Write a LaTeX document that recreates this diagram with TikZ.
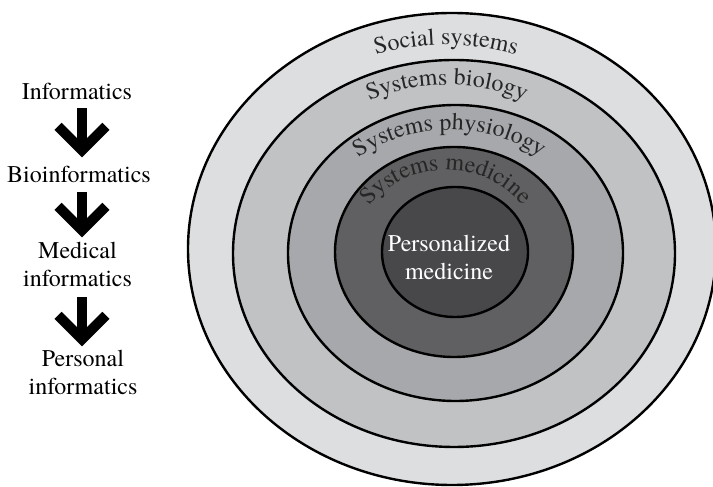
\documentclass[tikz,border=0pt]{standalone}
\usepackage{fontspec}
\setmainfont{TeX Gyre Termes}
\usetikzlibrary{arrows.meta,decorations.text}

\definecolor{ringA}{HTML}{DDDEE0}
\definecolor{ringB}{HTML}{C1C2C4}
\definecolor{ringC}{HTML}{A7A8AB}
\definecolor{ringD}{HTML}{606062}
\definecolor{ringE}{HTML}{48484B}
\definecolor{labelink}{HTML}{262626}

\newcommand{\bigtext}{\fontsize{24}{28}\selectfont}

\begin{document}
\begin{tikzpicture}[x=1pt,y=1pt,
  ring/.style={draw=black, line width=2.4pt},
  stage/.style={font=\bigtext, align=center, inner sep=0pt, anchor=south, text=black},
  flow/.style={line width=10pt, -{Straight Barb[length=24pt,width=48pt]}},
  ringlabel/.style={decorate, decoration={text along path, text align=center,
      text={|\bigtext\color{labelink}|#1}}}
]
\useasboundingbox (0,0) rectangle (713,487);
\fill[white] (0,0) rectangle (713,487);

% nested rings, outermost first
\filldraw[ring, fill=ringA] (452,238)   ellipse [x radius=264pt,   y radius=236pt];
\filldraw[ring, fill=ringB] (454,233.5) ellipse [x radius=221pt,   y radius=193.5pt];
\filldraw[ring, fill=ringC] (455.5,234) ellipse [x radius=167.5pt, y radius=148pt];
\filldraw[ring, fill=ringD] (454,235)   ellipse [x radius=119pt,   y radius=105pt];
\filldraw[ring, fill=ringE] (455,235)   ellipse [x radius=73pt,    y radius=65pt];

% ring titles set along arcs
\path[ringlabel={Social systems}]
  (446,236) ++(165:230pt and 206pt) arc[start angle=165, end angle=15, x radius=230pt, y radius=206pt];
\path[ringlabel={Systems biology}]
  (447,234) ++(165:185pt and 168pt) arc[start angle=165, end angle=15, x radius=185pt, y radius=168pt];
\path[ringlabel={Systems physiology}]
  (450,234) ++(170:145pt and 123pt) arc[start angle=170, end angle=10, x radius=145pt, y radius=123pt];
\path[ringlabel={Systems medicine}]
  (446,235) ++(175:92pt and 82pt) arc[start angle=175, end angle=5, x radius=92pt, y radius=82pt];

\node[stage, text=white] (pm) at (449,207) {Personalized\\medicine};

% informatics sequence
\node[stage] (info) at (77,387)   {Informatics};
\node[stage] (bio)  at (79,304)   {Bioinformatics};
\node[stage] (med)  at (77.5,200) {Medical\\informatics};
\node[stage] (pers) at (83,92)    {Personal\\informatics};

\draw[flow, shorten <=8pt, shorten >=8.6pt] ([xshift=5pt]info.south) -- ([xshift=3pt]bio.north);
\draw[flow, shorten <=9pt, shorten >=4.6pt] ([xshift=3pt]bio.south) -- ([xshift=4.5pt]med.north);
\draw[flow, shorten <=10pt, shorten >=3.6pt] ([xshift=4.5pt]med.south) -- ([xshift=-1pt]pers.north);
\end{tikzpicture}
\end{document}
